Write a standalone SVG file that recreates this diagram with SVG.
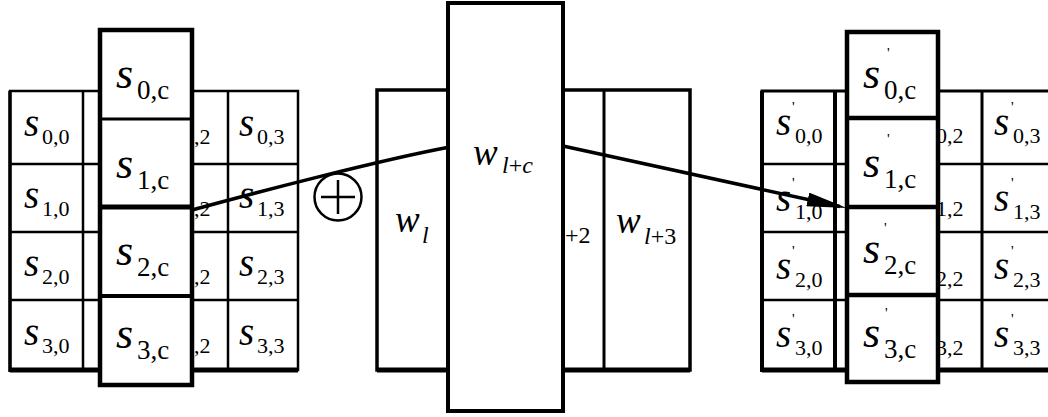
<svg xmlns="http://www.w3.org/2000/svg" width="1048" height="417" viewBox="0 0 1048 417">
<style>
.box{fill:#fff;stroke:#000}
.ln{stroke:#000;fill:none}
text{font-family:"Liberation Serif","DejaVu Serif",serif;fill:#000}
.s{font-style:italic;font-size:39px}
.sc{font-style:italic;font-size:44px}
.sb{font-style:normal;font-size:22px}
.sbc{font-style:normal;font-size:27px}
.w{font-style:italic;font-size:37px}
.wb{font-style:normal;font-size:24px}
.it{font-style:italic}
.pr{font-style:normal;font-size:15px}
.con{stroke:#000;stroke-width:3.5;fill:none}
</style>
<defs>
<marker id="ah" markerUnits="userSpaceOnUse" markerWidth="40" markerHeight="14" viewBox="0 0 40 14" refX="33" refY="7" orient="auto">
<path d="M0,0 L40,7 L0,14 z" fill="#000"/>
</marker>
</defs>

<g id="left-state">
<rect class="box" x="10" y="91" width="288" height="279" stroke-width="2.5"/>
<path class="ln" stroke-width="2.5" d="M10,164H298M10,232H298M10,300H298M83,91V370M156,91V370M228,91V370"/>
<path class="ln" stroke-width="5" d="M10,370H298"/>
<path class="ln" stroke-width="3.5" d="M10,91V372"/>
<text font-family="Liberation Serif"><tspan class="s" x="24" y="136">s</tspan><tspan class="sb" x="42" y="144">0,0</tspan></text>
<text><tspan class="s" x="24" y="208">s</tspan><tspan class="sb" x="42" y="216">1,0</tspan></text>
<text><tspan class="s" x="24" y="276">s</tspan><tspan class="sb" x="42" y="284">2,0</tspan></text>
<text><tspan class="s" x="24" y="345">s</tspan><tspan class="sb" x="42" y="353">3,0</tspan></text>
<text class="sb" x="194" y="144">,2</text>
<text class="sb" x="194" y="216">,2</text>
<text class="sb" x="194" y="284">,2</text>
<text class="sb" x="194" y="353">,2</text>
<text><tspan class="s" x="239" y="136">s</tspan><tspan class="sb" x="257" y="144">0,3</tspan></text>
<text><tspan class="s" x="239" y="208">s</tspan><tspan class="sb" x="257" y="216">1,3</tspan></text>
<text><tspan class="s" x="239" y="276">s</tspan><tspan class="sb" x="257" y="284">2,3</tspan></text>
<text><tspan class="s" x="239" y="345">s</tspan><tspan class="sb" x="257" y="353">3,3</tspan></text>
</g>

<g id="left-column">
<rect class="box" x="100" y="30" width="92" height="355" stroke-width="4.5"/>
<path class="ln" stroke-width="3" d="M100,119H192"/>
<path class="ln" stroke-width="5" d="M100,207H192"/>
<path class="ln" stroke-width="4" d="M100,296H192"/>
<text><tspan class="sc" x="116" y="88">s</tspan><tspan class="sbc" x="137" y="99">0,c</tspan></text>
<text><tspan class="sc" x="116" y="178">s</tspan><tspan class="sbc" x="137" y="189">1,c</tspan></text>
<text><tspan class="sc" x="116" y="265">s</tspan><tspan class="sbc" x="137" y="276">2,c</tspan></text>
<text><tspan class="sc" x="116" y="348">s</tspan><tspan class="sbc" x="137" y="359">3,c</tspan></text>
</g>

<g id="key-schedule">
<rect class="box" x="377" y="90" width="313" height="280" stroke-width="3.5"/>
<path class="ln" stroke-width="5" d="M377,370H690"/>
<path class="ln" stroke-width="3" d="M604,90V370"/>
<text><tspan class="w" x="395" y="232">w</tspan><tspan class="wb it" x="422" y="243">l</tspan></text>
<text class="wb" x="565" y="243">+2</text>
<text><tspan class="w" x="616" y="233">w</tspan><tspan class="wb" x="644" y="244"><tspan class="it">l</tspan>+3</tspan></text>
</g>

<g id="right-state">
<rect class="box" x="762" y="91" width="295" height="279" stroke-width="3"/>
<path class="ln" stroke-width="2.5" d="M762,164H1048M762,232H1048M762,300H1048M908,91V370"/>
<path class="ln" stroke-width="4" d="M835,91V370"/>
<path class="ln" stroke-width="3" d="M982,91V370"/>
<path class="ln" stroke-width="5" d="M762,370H1048"/>
<path class="ln" stroke-width="4" d="M762,91V372"/>
<text><tspan class="s" x="776" y="135">s</tspan><tspan class="pr" x="792" y="112">'</tspan><tspan class="sb" x="795" y="143">0,0</tspan></text>
<text><tspan class="s" x="776" y="211">s</tspan><tspan class="pr" x="792" y="188">'</tspan><tspan class="sb" x="795" y="219">1,0</tspan></text>
<text><tspan class="s" x="776" y="279">s</tspan><tspan class="pr" x="792" y="256">'</tspan><tspan class="sb" x="795" y="287">2,0</tspan></text>
<text><tspan class="s" x="776" y="347">s</tspan><tspan class="pr" x="792" y="324">'</tspan><tspan class="sb" x="795" y="355">3,0</tspan></text>
<text class="sb" x="936" y="143">0,2</text>
<text class="sb" x="936" y="216">1,2</text>
<text class="sb" x="936" y="286">2,2</text>
<text class="sb" x="936" y="355">3,2</text>
<text><tspan class="s" x="994" y="135">s</tspan><tspan class="pr" x="1011" y="112">'</tspan><tspan class="sb" x="1013" y="143">0,3</tspan></text>
<text><tspan class="s" x="994" y="211">s</tspan><tspan class="pr" x="1011" y="188">'</tspan><tspan class="sb" x="1013" y="219">1,3</tspan></text>
<text><tspan class="s" x="994" y="279">s</tspan><tspan class="pr" x="1011" y="256">'</tspan><tspan class="sb" x="1013" y="287">2,3</tspan></text>
<text><tspan class="s" x="994" y="347">s</tspan><tspan class="pr" x="1011" y="324">'</tspan><tspan class="sb" x="1013" y="355">3,3</tspan></text>
</g>

<g id="right-column">
<rect class="box" x="847" y="32" width="91" height="350" stroke-width="4.5"/>
<path class="ln" stroke-width="4.5" d="M847,118H938M847,207H938M847,295H938"/>
<text><tspan class="sc" x="863" y="88">s</tspan><tspan class="pr" x="887" y="58">'</tspan><tspan class="sbc" x="884" y="99">0,c</tspan></text>
<text><tspan class="sc" x="863" y="177">s</tspan><tspan class="pr" x="887" y="144">'</tspan><tspan class="sbc" x="884" y="188">1,c</tspan></text>
<text><tspan class="sc" x="863" y="263">s</tspan><tspan class="pr" x="884" y="233">'</tspan><tspan class="sbc" x="884" y="274">2,c</tspan></text>
<text><tspan class="sc" x="863" y="347">s</tspan><tspan class="pr" x="885" y="318">'</tspan><tspan class="sbc" x="884" y="358">3,c</tspan></text>
</g>

<g id="connectors">
<path class="con" d="M192,210 C250,194 380,160 450,147 L562,146"/>
<path class="con" d="M563,146 L840,206.5" marker-end="url(#ah)"/>
</g>

<g id="key-word-lc">
<rect class="box" x="448" y="3" width="115" height="408" stroke-width="4"/>
<text><tspan class="w" x="473" y="165">w</tspan><tspan class="wb" x="502" y="173"><tspan class="it">l</tspan>+<tspan class="it">c</tspan></tspan></text>
</g>

<g id="xor">
<circle cx="338" cy="197" r="23.5" fill="#fff" stroke="#000" stroke-width="2.5"/>
<path class="ln" stroke-width="2.5" d="M321,197H355M338,180V214"/>
</g>
</svg>
